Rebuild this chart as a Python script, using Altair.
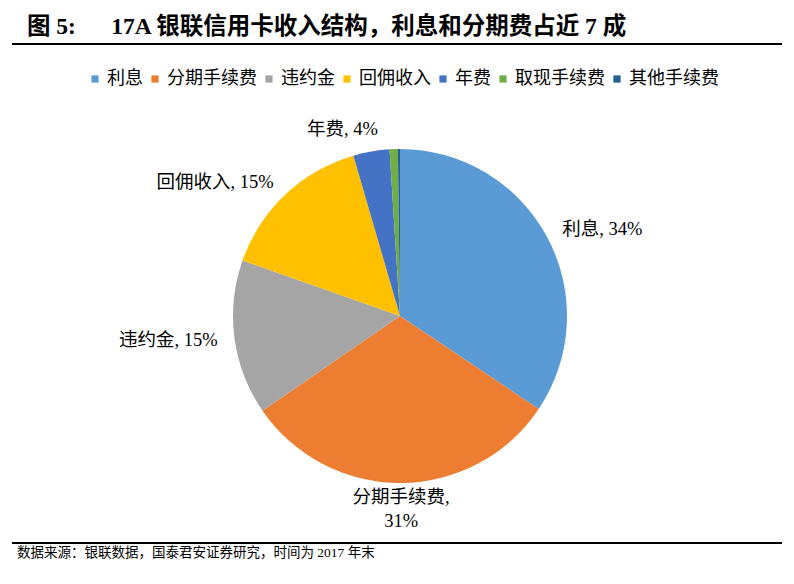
import altair as alt
import pandas as pd

categories = ["利息", "分期手续费", "违约金", "回佣收入", "年费", "取现手续费", "其他手续费"]
shares = [34.4, 31.0, 15.0, 15.1, 3.5, 0.8, 0.2]
show_label = [True, True, True, True, True, False, False]
colors = ["#5B9BD5", "#ED7D31", "#A5A5A5", "#FFC000", "#4472C4", "#70AD47", "#255E91"]

title_text = "图 5:\u00a0\u00a0\u00a0\u00a0\u00a0\u00a017A 银联信用卡收入结构，利息和分期费占近 7 成"
source_text = "数据来源：银联数据，国泰君安证券研究，时间为 2017 年末"

FONT = "Liberation Serif, Noto Sans CJK SC, serif"

labels = []
for c, v, s in zip(categories, shares, show_label):
    if not s:
        labels.append("")
    elif c == "分期手续费":
        labels.append(f"{c},\n{round(v)}%")
    else:
        labels.append(f"{c}, {round(v)}%")

df = pd.DataFrame({
    "idx": list(range(len(categories))),
    "cat": categories,
    "share": shares,
    "label": labels,
})

CX, CY = 392, 308

base = alt.Chart(df)

pie = base.mark_arc(radius=167).encode(
    theta=alt.Theta("share:Q", stack=True),
    order=alt.Order("idx:Q"),
    color=alt.Color(
        "cat:N",
        scale=alt.Scale(domain=categories, range=colors),
        legend=alt.Legend(
            orient="none", legendX=78, legendY=62, direction="horizontal",
            columns=7, title=None, symbolType="square", symbolSize=52,
            symbolStrokeWidth=0, labelFont=FONT, labelFontSize=18,
            labelColor="#000000", labelOffset=3, columnPadding=3,
            labelLimit=0,
        ),
    ),
    x=alt.value(CX),
    y=alt.value(CY),
)

lab_base = base.transform_joinaggregate(
    total="sum(share)"
).transform_window(
    cum="sum(share)", sort=[alt.SortField("idx")], frame=[None, 0]
).transform_calculate(
    mid="(datum.cum - datum.share / 2) / datum.total"
).transform_filter("datum.label != ''")

theta_enc = alt.Theta("mid:Q", stack=False,
                      scale=alt.Scale(domain=[0, 1], range=[0, 6.283185307179586]))

def label_layer(cond, **mk):
    return lab_base.transform_filter(cond).mark_text(
        font=FONT, fontSize=18.5, color="#000000", **mk
    ).encode(
        theta=theta_enc,
        text=alt.Text("label:N"),
        x=alt.value(CX),
        y=alt.value(CY),
    )

right = label_layer("datum.mid < 0.45", radius=184, align="left", baseline="middle")
bottom = label_layer("datum.mid >= 0.45 && datum.mid < 0.55", radius=172,
                     align="center", baseline="top", lineBreak="\n", lineHeight=24)
left = label_layer("datum.mid >= 0.55 && datum.mid < 0.95", radius=184,
                   align="right", baseline="middle")
top = label_layer("datum.mid >= 0.95", radius=190, align="center",
                  baseline="middle", dx=-25)

labels_layer = alt.layer(right, bottom, left, top)

title_df = pd.DataFrame({"t": [title_text]})
title = alt.Chart(title_df).mark_text(
    font=FONT, fontSize=23.5, fontWeight="bold", align="left", baseline="middle",
    color="#000000"
).encode(text="t:N", x=alt.value(19), y=alt.value(19))

src_df = pd.DataFrame({"t": [source_text]})
source = alt.Chart(src_df).mark_text(
    font=FONT, fontSize=13.5, align="left", baseline="middle", color="#000000"
).encode(text="t:N", x=alt.value(9), y=alt.value(545))

line_df = pd.DataFrame({"k": ["top", "bottom"]})
rule_top = alt.Chart(line_df).transform_filter("datum.k == 'top'").mark_rule(
    color="#000000", strokeWidth=2
).encode(x=alt.value(4), x2=alt.value(774), y=alt.value(36))
rule_bot = alt.Chart(line_df).transform_filter("datum.k == 'bottom'").mark_rule(
    color="#000000", strokeWidth=2
).encode(x=alt.value(4), x2=alt.value(774), y=alt.value(535))

chart = alt.layer(
    pie, labels_layer, title, source, rule_top, rule_bot
).resolve_scale(theta="independent").properties(
    width=778, height=568,
    autosize=alt.AutoSizeParams(type="fit", contains="padding"),
    padding=0,
    background="#ffffff",
).configure_view(stroke=None)

chart.save("out.html", embed_options={"renderer": "svg", "actions": False})
